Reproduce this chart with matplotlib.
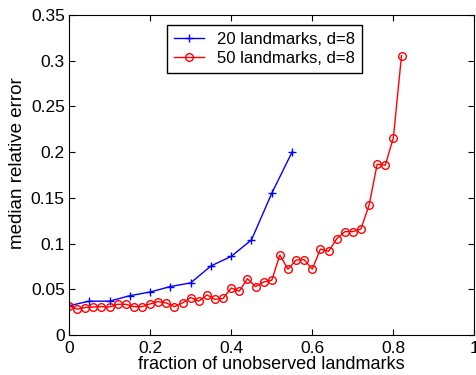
import matplotlib
matplotlib.use("Agg")
import matplotlib.pyplot as plt
import numpy as np

plt.rcParams['font.family'] = ['Liberation Sans', 'DejaVu Sans']

x20 = [0.0, 0.05, 0.10, 0.15, 0.20, 0.25, 0.30, 0.35, 0.40, 0.45, 0.50, 0.55]
y20 = [0.032, 0.037, 0.037, 0.043, 0.047, 0.053, 0.057, 0.0755, 0.086, 0.104, 0.155, 0.200]

x50 = [round(0.02 * i, 2) for i in range(42)]
y50 = [0.032, 0.0284, 0.030, 0.0306, 0.031, 0.0306, 0.0336, 0.0336, 0.031, 0.031,
       0.034, 0.0365, 0.035, 0.031, 0.035, 0.041, 0.037, 0.0438, 0.039, 0.040,
       0.0514, 0.048, 0.0616, 0.053, 0.058, 0.0598, 0.0875, 0.072, 0.082, 0.0824,
       0.072, 0.094, 0.0915, 0.105, 0.113, 0.113, 0.116, 0.142, 0.1868, 0.1857,
       0.216, 0.3056]

xticks = [0, 0.2, 0.4, 0.6, 0.8, 1]
xticklabels = ['0', '0.2', '0.4', '0.6', '0.8', '1']
yticks = [0, 0.05, 0.1, 0.15, 0.2, 0.25, 0.3, 0.35]
yticklabels = ['0', '0.05', '0.1', '0.15', '0.2', '0.25', '0.3', '0.35']

fig = plt.figure(figsize=(4.77, 3.75), dpi=100)
ax = fig.add_axes([69/477, 40/375, 405.5/477, 320/375])

ax.plot(x20, y20, color='blue', marker='+', markersize=6, linewidth=1,
        label='20 landmarks, d=8')
ax.plot(x50, y50, color='red', marker='o', markersize=5.5, markerfacecolor='none',
        linewidth=1, label='50 landmarks, d=8')

ax.set_xlim(0, 1)
ax.set_ylim(0, 0.35)
ax.set_xticks(xticks)
ax.set_xticklabels(xticklabels)
ax.set_yticks(yticks)
ax.set_yticklabels(yticklabels)
ax.tick_params(direction='in', top=True, right=True, labelsize=12.5, length=4)
ax.tick_params(axis='x', pad=4.5)
ax.tick_params(axis='y', pad=3)
ax.set_xlabel('fraction of unobserved landmarks', fontsize=13, labelpad=0)
ax.set_ylabel('median relative error', fontsize=13.5)
ax.yaxis.set_label_coords(-0.106, 0.536)

leg = ax.legend(loc='upper left', bbox_to_anchor=((167 - 69) / 405.5, (335 - 25) / 320),
                fontsize=12, fancybox=False, edgecolor='black', framealpha=1,
                handlelength=1.8, handletextpad=0.8, borderpad=0.4, labelspacing=0.25,
                borderaxespad=0)
leg.get_frame().set_linewidth(1)

fig.savefig('out.png', dpi=100)
